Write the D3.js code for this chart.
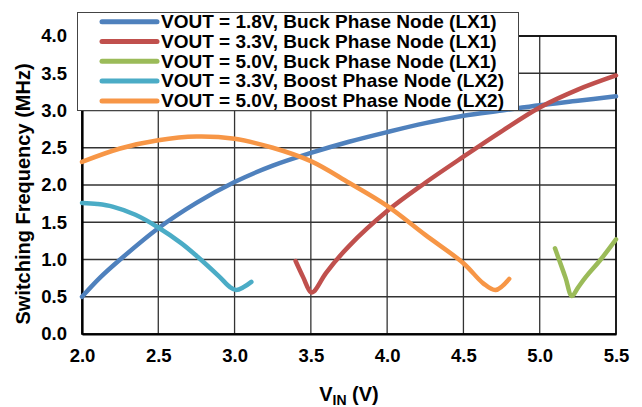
<!DOCTYPE html>
<html>
<head>
<meta charset="utf-8">
<script src="https://cdn.jsdelivr.net/npm/d3@7"></script>
<style>
  html, body { margin: 0; padding: 0; background: #fff; }
  svg { display: block; font-family: "Liberation Sans", Arial, sans-serif; }
</style>
</head>
<body>
<svg id="chart" width="642" height="407"></svg>
<script>
// ---- Data ----
const seriesNames = [
  "VOUT = 1.8V, Buck Phase Node (LX1)",
  "VOUT = 3.3V, Buck Phase Node (LX1)",
  "VOUT = 5.0V, Buck Phase Node (LX1)",
  "VOUT = 3.3V, Boost Phase Node (LX2)",
  "VOUT = 5.0V, Boost Phase Node (LX2)"
];
const seriesColors = ["#4F81BD", "#C0504D", "#9BBB59", "#4BACC6", "#F79646"];

const buck18 = [[2.0,0.50],[2.12,0.76],[2.25,1.00],[2.5,1.42],[2.75,1.76],[3.0,2.04],[3.25,2.26],[3.5,2.43],[3.75,2.58],[4.0,2.71],[4.25,2.83],[4.5,2.93],[4.75,3.00],[5.0,3.07],[5.25,3.13],[5.5,3.19]];
const buck33 = [[3.40,0.98],[3.45,0.76],[3.50,0.56],[3.52,0.57],[3.60,0.82],[3.75,1.18],[4.0,1.65],[4.25,2.03],[4.5,2.38],[4.75,2.72],[5.0,3.04],[5.25,3.28],[5.5,3.47]];
const buck50 = [[5.10,1.15],[5.13,0.98],[5.17,0.75],[5.21,0.51],[5.25,0.62],[5.30,0.76],[5.40,1.00],[5.50,1.27]];
const boost33 = [[2.0,1.76],[2.1,1.745],[2.2,1.71],[2.35,1.60],[2.5,1.43],[2.65,1.22],[2.75,1.05],[2.9,0.77],[2.97,0.63],[3.01,0.59],[3.06,0.63],[3.11,0.70]];
const boost50 = [[2.0,2.31],[2.25,2.49],[2.5,2.60],[2.75,2.65],[3.0,2.62],[3.25,2.50],[3.5,2.32],[3.75,2.03],[4.0,1.72],[4.25,1.33],[4.5,0.95],[4.63,0.68],[4.71,0.59],[4.80,0.74]];

const xTicks = [2.0, 2.5, 3.0, 3.5, 4.0, 4.5, 5.0, 5.5];
const yTicks = [0.0, 0.5, 1.0, 1.5, 2.0, 2.5, 3.0, 3.5, 4.0];
const xLabelMain = "V", xLabelSub = "IN", xLabelTail = " (V)";
const yLabel = "Switching Frequency (MHz)";

const allSeries = [buck18, buck33, buck50, boost33, boost50];

// ---- Layout ----
const svg = d3.select("#chart");
const plot = { left: 82, right: 616, top: 36, bottom: 334 };

const x = d3.scaleLinear().domain([2.0, 5.5]).range([plot.left, plot.right]);
const y = d3.scaleLinear().domain([0, 4.0]).range([plot.bottom, plot.top]);

// grid
const grid = svg.append("g");
grid.selectAll("line.v").data(xTicks).join("line")
  .attr("x1", d => x(d)).attr("x2", d => x(d))
  .attr("y1", plot.top).attr("y2", plot.bottom)
  .attr("stroke", "#333").attr("stroke-width", 1.3);
grid.selectAll("line.h").data(yTicks).join("line")
  .attr("x1", plot.left).attr("x2", plot.right)
  .attr("y1", d => y(d)).attr("y2", d => y(d))
  .attr("stroke", "#333").attr("stroke-width", 1.3);

// border
svg.append("rect")
  .attr("x", plot.left).attr("y", plot.top)
  .attr("width", plot.right - plot.left).attr("height", plot.bottom - plot.top)
  .attr("fill", "none").attr("stroke", "#000").attr("stroke-width", 1.5);

// axes
const fmt = d3.format(".1f");
const xAxis = svg.append("g").attr("transform", `translate(0,${plot.bottom})`)
  .call(d3.axisBottom(x).tickValues(xTicks).tickFormat(fmt).tickSize(0).tickPadding(15));
const yAxis = svg.append("g").attr("transform", `translate(${plot.left},0)`)
  .call(d3.axisLeft(y).tickValues(yTicks).tickFormat(fmt).tickSize(0).tickPadding(15));
[xAxis, yAxis].forEach(g => {
  g.select(".domain").attr("stroke", "#000").attr("stroke-width", 2.2);
  g.selectAll("text").attr("font-size", 18.5).attr("font-weight", "bold")
    .attr("fill", "#000").attr("font-family", "'Liberation Sans', Arial, sans-serif");
});

// series
const line = d3.line().x(d => x(d[0])).y(d => y(d[1])).curve(d3.curveCatmullRom.alpha(0.5));
svg.append("g").selectAll("path").data(allSeries).join("path")
  .attr("d", line)
  .attr("fill", "none")
  .attr("stroke", (d, i) => seriesColors[i])
  .attr("stroke-width", 4.5)
  .attr("stroke-linecap", "round")
  .attr("stroke-linejoin", "round");

// legend
const lg = svg.append("g");
lg.append("rect").attr("x", 77.5).attr("y", 12.5).attr("width", 441).attr("height", 98)
  .attr("fill", "#fff").attr("stroke", "#444").attr("stroke-width", 1);
const items = lg.selectAll("g.item").data(seriesNames).join("g")
  .attr("transform", (d, i) => `translate(0,${i * 19.8})`);
items.append("line")
  .attr("x1", 102).attr("x2", 157).attr("y1", 21.7).attr("y2", 21.7)
  .attr("stroke", (d, i) => seriesColors[i]).attr("stroke-width", 5).attr("stroke-linecap", "round");
items.append("text")
  .attr("x", 161).attr("y", 28)
  .attr("font-size", 19).attr("font-weight", "bold").attr("fill", "#000")
  .text(d => d);

// axis titles
svg.append("text")
  .attr("transform", `translate(30,194) rotate(-90)`)
  .attr("text-anchor", "middle")
  .attr("font-size", 20).attr("font-weight", "bold").attr("fill", "#000")
  .text(yLabel);

const xt = svg.append("text")
  .attr("x", (plot.left + plot.right) / 2).attr("y", 401)
  .attr("text-anchor", "middle")
  .attr("font-size", 20).attr("font-weight", "bold").attr("fill", "#000");
xt.append("tspan").text(xLabelMain);
xt.append("tspan").attr("font-size", 14).attr("dy", 4).text(xLabelSub);
xt.append("tspan").attr("dy", -4).text(xLabelTail);
</script>
</body>
</html>
